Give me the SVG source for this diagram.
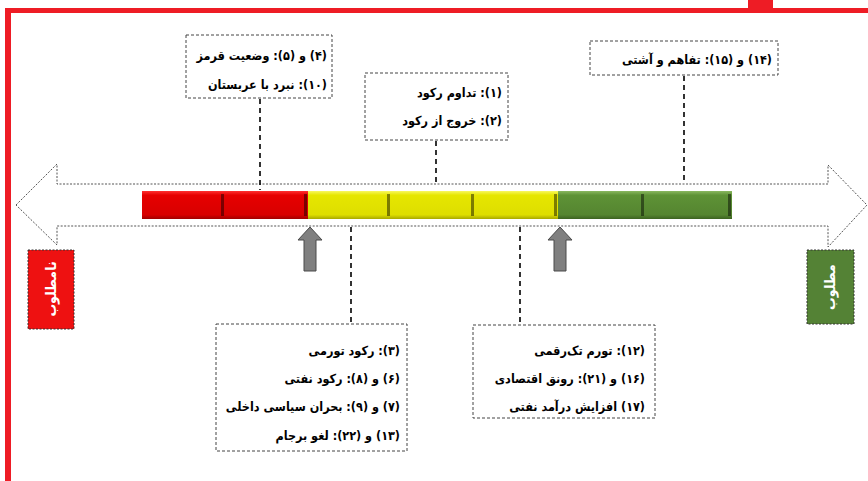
<svg xmlns="http://www.w3.org/2000/svg" width="868" height="481" viewBox="0 0 868 481">
<style>
.frame{fill:#ee1c25}
.box{fill:#fff;stroke:#444;stroke-width:1;stroke-dasharray:3,2}
.t{font-family:"DejaVu Sans Condensed","DejaVu Sans",sans-serif;font-stretch:condensed;font-size:12.5px;font-weight:bold;fill:#000;direction:rtl;text-anchor:start}
.lbl{font-family:"DejaVu Sans Condensed","DejaVu Sans",sans-serif;font-stretch:condensed;font-size:14px;font-weight:bold;fill:#fff;text-anchor:middle;dominant-baseline:central}
.conn{stroke:#000;stroke-width:1.6;stroke-dasharray:5,4;fill:none}
.big{fill:#fff;stroke:#555;stroke-width:1;stroke-dasharray:2,1.5}
.up{fill:#808080;stroke:#4a4a4a;stroke-width:1}
.edge{fill:#000;opacity:0.45}
</style>
<defs>
<linearGradient id="gr" x1="0" y1="0" x2="0" y2="1"><stop offset="0" stop-color="#ff3030"/><stop offset="0.15" stop-color="#e60000"/><stop offset="0.85" stop-color="#d80000"/><stop offset="1" stop-color="#a00000"/></linearGradient>
<linearGradient id="gy" x1="0" y1="0" x2="0" y2="1"><stop offset="0" stop-color="#f8f860"/><stop offset="0.15" stop-color="#e6e600"/><stop offset="0.85" stop-color="#dede00"/><stop offset="1" stop-color="#a8a800"/></linearGradient>
<linearGradient id="gg" x1="0" y1="0" x2="0" y2="1"><stop offset="0" stop-color="#8ab860"/><stop offset="0.15" stop-color="#5e9236"/><stop offset="0.85" stop-color="#558530"/><stop offset="1" stop-color="#3c6220"/></linearGradient>
</defs>

<g id="frame">
<rect class="frame" x="5" y="8" width="863" height="5"/>
<rect class="frame" x="5" y="8" width="6" height="473"/>
<rect class="frame" x="748" y="0" width="25" height="10"/>
</g>

<g id="axis">
<path class="big" d="M16,205 L57,164 L57,184 L828,184 L828,165 L867,205 L828,247 L828,226 L57,226 L57,245 Z"/>
</g>

<g id="bar">
<rect x="142" y="191" width="83" height="28" fill="url(#gr)"/>
<rect x="225" y="191" width="83" height="28" fill="url(#gr)"/>
<rect x="308" y="191" width="83" height="28" fill="url(#gy)"/>
<rect x="391" y="191" width="84" height="28" fill="url(#gy)"/>
<rect x="475" y="191" width="83" height="28" fill="url(#gy)"/>
<rect x="558" y="191" width="87" height="28" fill="url(#gg)"/>
<rect x="645" y="191" width="87" height="28" fill="url(#gg)"/>
<rect class="edge" x="221" y="194" width="3" height="22"/>
<rect class="edge" x="304" y="194" width="3" height="22"/>
<rect class="edge" x="387" y="194" width="3" height="22"/>
<rect class="edge" x="471" y="194" width="3" height="22"/>
<rect class="edge" x="554" y="194" width="3" height="22"/>
<rect class="edge" x="641" y="194" width="3" height="22"/>
<rect class="edge" x="728" y="194" width="3" height="22"/>
</g>

<g id="arrow-up-1"><path class="up" d="M310,227 L322,240 L316,240 L316,271 L304,271 L304,240 L298,240 Z"/></g>
<g id="arrow-up-2"><path class="up" d="M560,227 L572,240 L566,240 L566,271 L554,271 L554,240 L548,240 Z"/></g>

<g id="connectors">
<line class="conn" x1="260" y1="99" x2="260" y2="190"/>
<line class="conn" x1="436" y1="141" x2="436" y2="184"/>
<line class="conn" x1="684" y1="76" x2="684" y2="184"/>
<line class="conn" x1="351" y1="227" x2="351" y2="323"/>
<line class="conn" x1="520" y1="227" x2="520" y2="324"/>
</g>

<g id="box-red-state">
<rect class="box" x="186" y="35" width="146" height="63"/>
<text class="t" x="327" y="60">(۴) و (۵): وضعیت قرمز</text>
<text class="t" x="327" y="89">(۱۰): نبرد با عربستان</text>
</g>

<g id="box-recession">
<rect class="box" x="365" y="73" width="143" height="67"/>
<text class="t" x="502" y="97">(۱): تداوم رکود</text>
<text class="t" x="502" y="125">(۲): خروج از رکود</text>
</g>

<g id="box-agreement">
<rect class="box" x="590" y="41" width="188" height="34"/>
<text class="t" x="772" y="64">(۱۴) و (۱۵): تفاهم و آشتی</text>
</g>

<g id="box-bad">
<rect class="box" x="216" y="324" width="191" height="127"/>
<text class="t" x="400" y="355">(۳): رکود تورمی</text>
<text class="t" x="400" y="383">(۶) و (۸): رکود نفتی</text>
<text class="t" x="400" y="411">(۷) و (۹): بحران سیاسی داخلی</text>
<text class="t" x="400" y="440">(۱۳) و (۲۲): لغو برجام</text>
</g>

<g id="box-good">
<rect class="box" x="473" y="325" width="182" height="93"/>
<text class="t" x="645" y="355">(۱۲): تورم تک‌رقمی</text>
<text class="t" x="645" y="383">(۱۶) و (۲۱): رونق اقتصادی</text>
<text class="t" x="645" y="411">(۱۷) افزایش درآمد نفتی</text>
</g>

<g id="label-undesired">
<rect x="28" y="250" width="46" height="79" fill="#ee1111" stroke="#333" stroke-width="1" stroke-dasharray="2,1.5"/>
<text class="lbl" transform="translate(51,289) rotate(-90)">نامطلوب</text>
</g>

<g id="label-desired">
<rect x="807" y="250" width="47" height="74" fill="#548235" stroke="#333" stroke-width="1" stroke-dasharray="2,1.5"/>
<text class="lbl" transform="translate(830,287) rotate(-90)">مطلوب</text>
</g>
</svg>
